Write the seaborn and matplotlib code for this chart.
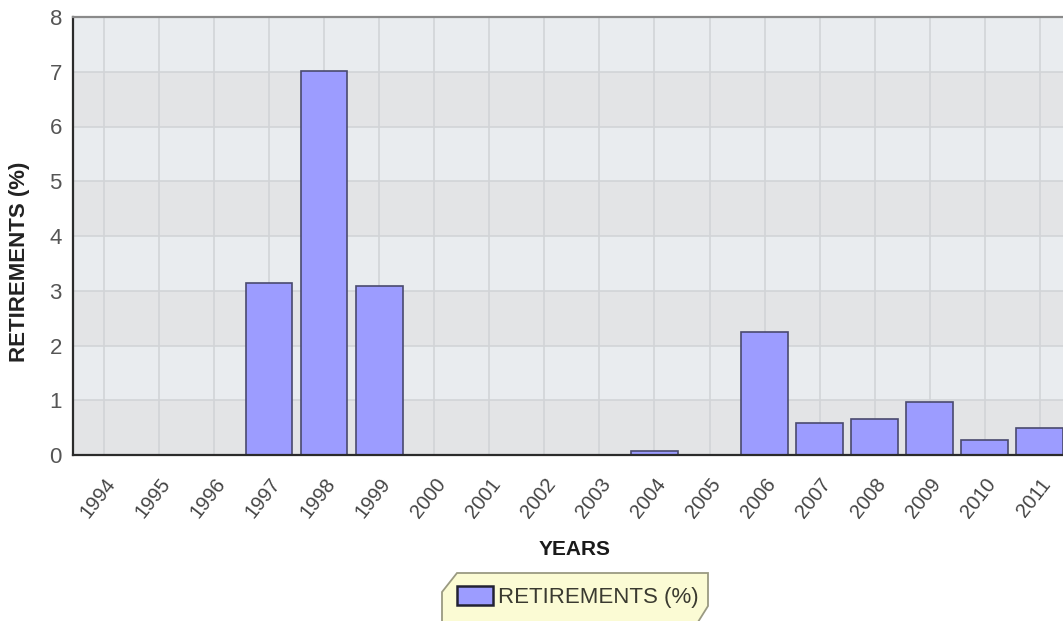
import numpy as np
import pandas as pd
import matplotlib
matplotlib.use("Agg")
import matplotlib.pyplot as plt
from matplotlib.patches import Polygon
import seaborn as sns

years = [str(y) for y in range(1994, 2012)]
retirements = [0, 0, 0, 3.15, 7.02, 3.09, 0, 0, 0, 0, 0.08, 0, 2.25, 0.59, 0.65, 0.97, 0.28, 0.50]
series_label = "RETIREMENTS (%)"
y_ticks = [0, 1, 2, 3, 4, 5, 6, 7, 8]

df = pd.DataFrame({"year": years, "value": retirements})

sns.set_style("white")
plt.rcParams["font.family"] = ["Liberation Sans", "DejaVu Sans"]

W, H = 1063, 621
fig = plt.figure(figsize=(W / 100, H / 100), dpi=100)
ax = fig.add_axes([73 / W, 1 - 455 / H, 1 - 73 / W, (455 - 17) / H])

# alternating horizontal bands
for i in range(8):
    col = "#e3e4e6" if i % 2 == 0 else "#e9ecef"
    ax.axhspan(i, i + 1, color=col, zorder=0, lw=0)

sns.barplot(data=df, x="year", y="value", color="#9c9cff", saturation=1,
            width=0.85, edgecolor="#4a4a6e", linewidth=1.2, label=series_label, ax=ax)

ax.set_axisbelow(True)
ax.grid(True, color="#d2d4d7", linewidth=1.2)

for side in ["left", "bottom"]:
    ax.spines[side].set_color("#2b2b2b")
    ax.spines[side].set_linewidth(1.6)
ax.spines["top"].set_color("#8a8a8a")
ax.spines["top"].set_linewidth(1.6)
ax.spines["right"].set_visible(False)

ax.tick_params(axis="both", direction="out", length=6, width=1.6, color="#2b2b2b")
ax.tick_params(axis="y", labelsize=16, labelcolor="#555555", pad=2)
ax.tick_params(axis="x", labelsize=14.5, labelcolor="#444444", pad=8)
plt.setp(ax.get_xticklabels(), rotation=52, ha="right", rotation_mode="anchor")

ax.set_xlabel("YEARS", fontsize=15, fontweight="bold", color="#1a1a1a")
ax.xaxis.set_label_coords((575 - 73) / 990, (455 - 540) / 438)
ax.set_ylabel("RETIREMENTS (%)", fontsize=16, fontweight="bold", color="#222222")
ax.yaxis.set_label_coords(-0.0435, 0.44)

# legend box with cut corners
pts = [(457, 573), (708, 573), (708, 606), (698, 622), (442, 622), (442, 592)]
box = Polygon([(x / W, 1 - y / H) for x, y in pts], closed=True, transform=fig.transFigure,
              facecolor="#fbfbd4", edgecolor="#9a9a82", linewidth=1.3, zorder=4, clip_on=False)
ax.add_artist(box)

ax.set_ylim(0, 8)
ax.set_xlim(-0.56, 17.42)
ax.set_yticks(y_ticks)

leg = ax.legend(loc="center left", bbox_to_anchor=(457 / W, 1 - 597 / H),
                bbox_transform=fig.transFigure, frameon=False, borderpad=0, borderaxespad=0,
                fontsize=16, handlelength=1.6, handleheight=0.95, handletextpad=0.25)
leg.set_zorder(6)
for h in leg.legend_handles:
    h.set_edgecolor("#222233")
    h.set_linewidth(1.8)
for t in leg.get_texts():
    t.set_color("#3a3a30")

fig.savefig("out.png", dpi=100)
